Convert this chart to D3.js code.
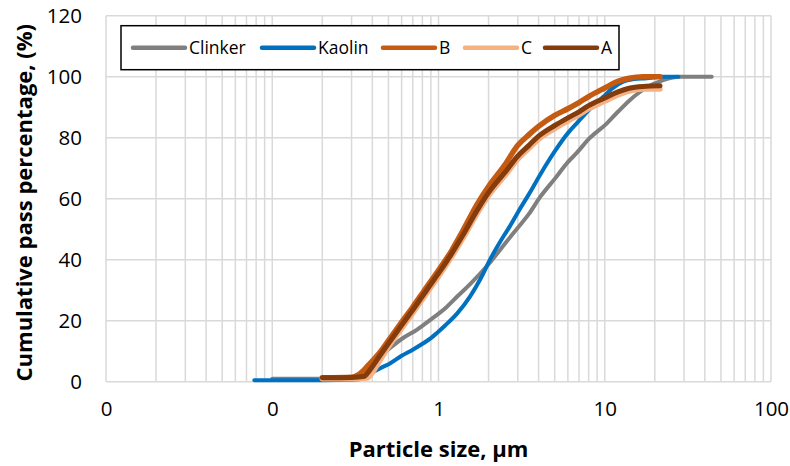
<!DOCTYPE html>
<html>
<head>
<meta charset="utf-8">
<script src="https://cdn.jsdelivr.net/npm/d3@7"></script>
<style>
  html, body { margin: 0; padding: 0; background: #fff; }
  svg { display: block; font-family: "Open Sans", Lato, sans-serif; }
</style>
</head>
<body>
<svg id="chart" width="790" height="466"></svg>
<script>
// Particle size distributions: [size in µm, cumulative passing %]
const clinker = [[0.1,1],[0.2,1],[0.3,1],[0.36,2],[0.4,5],[0.45,8.5],[0.51,11],[0.6,14],[0.74,17],[0.89,20.2],[1.12,24.5],[1.3,28],[1.55,32],[2.0,38.5],[2.57,46],[2.95,50],[3.5,55],[4.08,60.5],[5,66.5],[6,72],[6.78,75],[8,79.5],[10.3,84.7],[12,88.5],[14.2,92.4],[17.9,96.5],[22.5,98.9],[28.4,100],[44,100]];
const kaolin = [[0.078,0.5],[0.1,0.5],[0.2,0.5],[0.3,0.6],[0.36,1.2],[0.4,3],[0.45,4.5],[0.51,6],[0.6,8.5],[0.7,10.5],[0.81,12.6],[0.9,14.3],[0.975,15.9],[1.1,18.5],[1.3,22.5],[1.55,28],[1.8,34],[2.04,40],[2.45,47.5],[2.69,51],[3.0,55.5],[3.5,61.5],[4.08,67.8],[5,75.5],[6,81.5],[6.78,84.7],[8,89],[9.8,93.4],[11,96],[12.9,98.4],[15,99.2],[17.9,99.5],[22,100],[27.7,100]];
const sampleB = [[0.2,1.3],[0.3,1.5],[0.34,2.8],[0.38,5.5],[0.45,10],[0.5,13.5],[0.6,19.5],[0.7,24.5],[0.8,29],[0.9,33],[1.0,36.5],[1.2,43],[1.4,49.5],[1.7,58],[2.0,64],[2.5,71],[3.0,77.5],[3.5,81],[4.0,83.7],[5,87.3],[6,89.5],[7,91.5],[8,93.5],[10,96.3],[12,98.5],[14,99.5],[17,100],[21.5,100]];
const sampleC = [[0.2,1],[0.3,1],[0.37,1.2],[0.4,3],[0.45,7.5],[0.5,11.5],[0.6,17.5],[0.7,22.5],[0.8,27],[0.9,31],[1.0,34.5],[1.2,41],[1.4,47],[1.7,55],[2.0,61],[2.5,67.5],[3.0,73],[3.5,76.5],[4.0,79.5],[5,83],[6,85.5],[7,87.5],[8,89.5],[10,92],[12,94],[14,95.3],[17,96],[21.5,96]];
const sampleA = [[0.2,1.3],[0.3,1.4],[0.36,1.8],[0.37,2.5],[0.45,9],[0.5,12.5],[0.6,18.5],[0.7,23.5],[0.8,28],[0.9,32],[1.0,35.5],[1.2,42],[1.4,48],[1.7,56],[2.0,62],[2.5,68.5],[3.0,74],[3.5,77.5],[4.0,80.5],[5,84],[6,86.5],[7,88.5],[8,90.5],[10,93],[12,95],[14,96.2],[17,96.8],[21.5,97]];

const seriesNames = ["Clinker", "Kaolin", "B", "C", "A"];
const seriesData = [clinker, kaolin, sampleB, sampleC, sampleA];
const seriesColors = ["#7f7f7f", "#0070c0", "#c55a11", "#f4b183", "#843c0c"];
const seriesWidths = [4, 4, 5.5, 5.5, 5];

const xTickValues = [0.01, 0.1, 1, 10, 100];
const xTickLabels = ["0", "0", "1", "10", "100"];
const yTickValues = [0, 20, 40, 60, 80, 100, 120];

const svg = d3.select("#chart");
const margin = { left: 106, right: 19, top: 15.7, bottom: 84.3 };
const W = 790, H = 466;
const FONT = "'Open Sans', Lato, sans-serif";

const x = d3.scaleLog().domain([0.01, 100]).range([margin.left, W - margin.right]);
const y = d3.scaleLinear().domain([0, 120]).range([H - margin.bottom, margin.top]);

// Grid: minor + major verticals on the log axis, horizontals every 20
const minor = [];
for (let e = -2; e < 2; e++) for (let m = 1; m <= 9; m++) minor.push(m * Math.pow(10, e));
minor.push(100);

const grid = svg.append("g").attr("stroke", "#d9d9d9").attr("stroke-width", 1.5);
grid.selectAll("line.v").data(minor).join("line")
  .attr("x1", d => x(d)).attr("x2", d => x(d))
  .attr("y1", y(0)).attr("y2", y(120));
grid.selectAll("line.h").data(yTickValues).join("line")
  .attr("x1", x(0.01)).attr("x2", x(100))
  .attr("y1", d => y(d)).attr("y2", d => y(d));

// Axes (labels only, Excel-style)
const xAxis = d3.axisBottom(x).tickValues(xTickValues)
  .tickFormat((d, i) => xTickLabels[i]).tickSize(0).tickPadding(20);
svg.append("g").attr("transform", `translate(0,${y(0)})`).call(xAxis)
  .call(g => g.select(".domain").remove())
  .call(g => g.selectAll("text").attr("font-size", 20.5).attr("fill", "#000").attr("font-family", FONT));

const yAxis = d3.axisLeft(y).tickValues(yTickValues).tickSize(0).tickPadding(24);
svg.append("g").attr("transform", `translate(${x(0.01)},0)`).call(yAxis)
  .call(g => g.select(".domain").remove())
  .call(g => g.selectAll("text").attr("font-size", 20.5).attr("fill", "#000").attr("font-family", FONT));

// Series lines
const line = d3.line().x(d => x(d[0])).y(d => y(d[1])).curve(d3.curveMonotoneX);
svg.append("g").selectAll("path").data(seriesData).join("path")
  .attr("d", line)
  .attr("fill", "none")
  .attr("stroke", (d, i) => seriesColors[i])
  .attr("stroke-width", (d, i) => seriesWidths[i])
  .attr("stroke-linecap", "round")
  .attr("stroke-linejoin", "round");

// Axis titles
svg.append("text")
  .attr("x", (x(0.01) + x(100)) / 2).attr("y", 457)
  .attr("text-anchor", "middle").attr("font-weight", "bold").attr("font-size", 22)
  .text("Particle size, µm");
svg.append("text")
  .attr("transform", `translate(32,${(y(0) + y(120)) / 2 + 4}) rotate(-90)`)
  .attr("text-anchor", "middle").attr("font-weight", "bold").attr("font-size", 22)
  .text("Cumulative pass percentage, (%)");

// Legend
const legend = svg.append("g");
legend.append("rect")
  .attr("x", 121).attr("y", 25.7).attr("width", 498).attr("height", 44)
  .attr("fill", "#fff").attr("stroke", "#000").attr("stroke-width", 1.5);
const legendX = [133, 262, 383, 465, 545];
const items = legend.selectAll("g.item").data(seriesNames).join("g");
items.append("line")
  .attr("x1", (d, i) => legendX[i]).attr("x2", (d, i) => legendX[i] + 52)
  .attr("y1", 47.7).attr("y2", 47.7)
  .attr("stroke", (d, i) => seriesColors[i]).attr("stroke-width", 4.5)
  .attr("stroke-linecap", "round");
items.append("text")
  .attr("x", (d, i) => legendX[i] + 56).attr("y", 54)
  .attr("font-size", 17.5).text(d => d);
</script>
</body>
</html>
